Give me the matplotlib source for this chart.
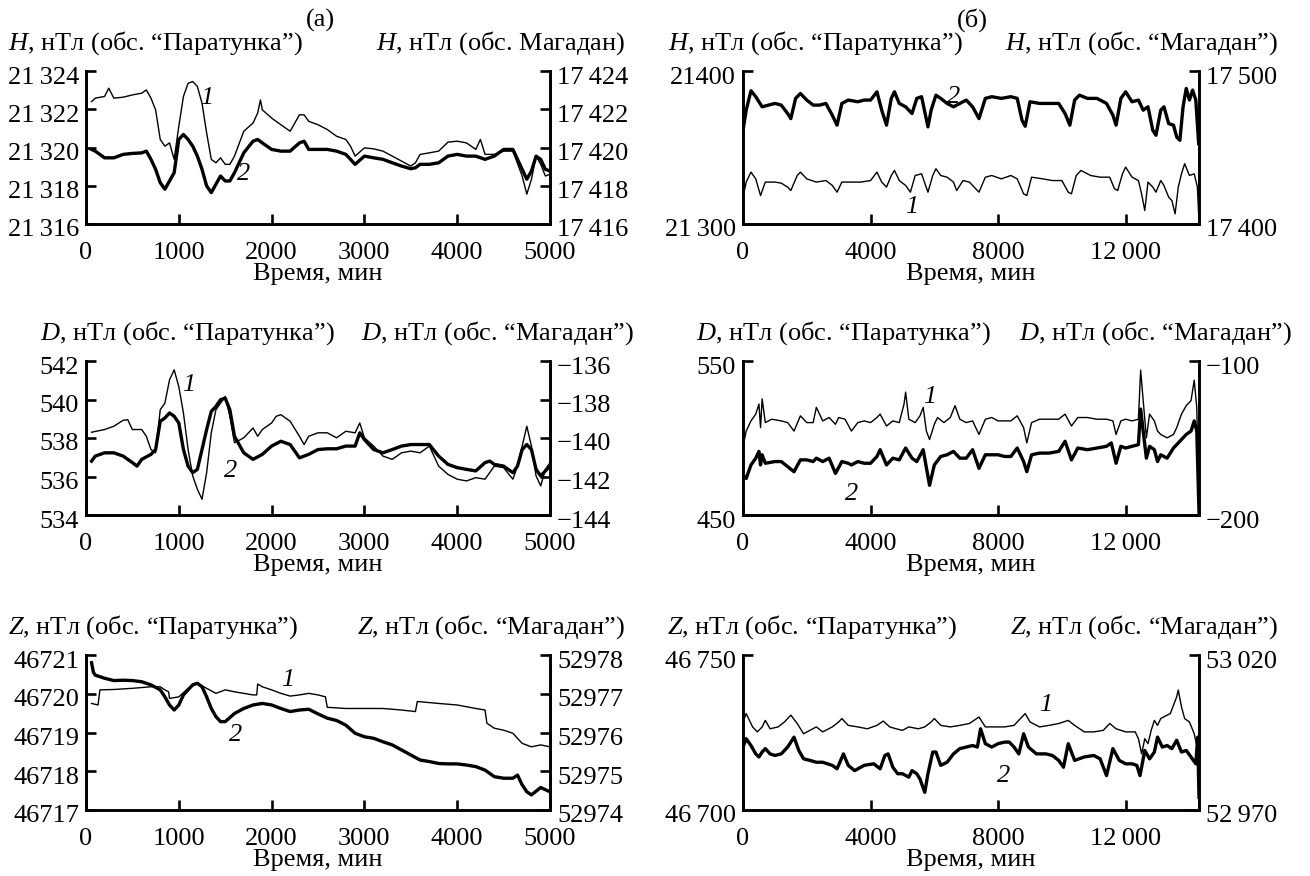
import matplotlib
matplotlib.use("Agg")
import matplotlib.pyplot as plt
from matplotlib.transforms import ScaledTranslation

plt.rcParams['font.family'] = ['Liberation Serif', 'DejaVu Serif']
plt.rcParams['mathtext.fontset'] = 'custom'
plt.rcParams['mathtext.it'] = 'Liberation Serif:italic'
plt.rcParams['mathtext.rm'] = 'Liberation Serif'
plt.rcParams['axes.unicode_minus'] = True

# ---------------- Panel (a): H ----------------
h_a_t1 = [60, 100, 200, 245, 300, 400, 500, 600, 650, 700, 750, 800, 850, 900, 950, 1000, 1050, 1100, 1150,
          1200, 1250, 1300, 1350, 1400, 1450, 1500, 1550, 1600, 1700, 1800, 1850, 1880, 1900, 2000, 2100, 2200,
          2300, 2350, 2400, 2500, 2600, 2700, 2800, 2850, 2900, 3000, 3100, 3200, 3300, 3400, 3500, 3550, 3600,
          3700, 3800, 3900, 4000, 4100, 4200, 4250, 4300, 4400, 4500, 4600, 4700, 4750, 4800, 4850, 4900, 4950, 5000]
h_a_par = [21322.4, 21322.58, 21322.67, 21323.1, 21322.58, 21322.63, 21322.75, 21322.84, 21323.01, 21322.58,
           21321.97, 21320.42, 21320.07, 21320.24, 21319.38, 21321.11, 21322.67, 21323.36, 21323.45, 21323.19,
           21322.32, 21320.76, 21319.38, 21319.20, 21319.46, 21319.12, 21319.12, 21319.55, 21320.85, 21321.28,
           21321.80, 21322.49, 21321.97, 21321.54, 21321.19, 21320.85, 21321.71, 21321.71, 21321.37, 21321.19,
           21320.94, 21320.59, 21320.42, 21320.07, 21319.55, 21319.98, 21319.93, 21319.81, 21319.55, 21319.29,
           21319.03, 21319.20, 21319.64, 21319.72, 21319.81, 21320.28, 21320.33, 21320.24, 21319.90, 21320.42,
           21319.64, 21319.64, 21319.81, 21319.81, 21318.51, 21317.56, 21318.34, 21319.55, 21319.12, 21318.51,
           21318.60]
h_a_t2 = [60, 100, 200, 300, 400, 500, 600, 650, 700, 750, 800, 850, 900, 950, 1000, 1050, 1100, 1150, 1200,
          1250, 1300, 1350, 1400, 1450, 1500, 1550, 1600, 1700, 1800, 1850, 1900, 2000, 2100, 2200, 2300, 2350,
          2400, 2500, 2600, 2700, 2800, 2850, 2900, 3000, 3100, 3200, 3300, 3400, 3500, 3550, 3600, 3700, 3800,
          3900, 4000, 4100, 4200, 4300, 4400, 4500, 4600, 4700, 4750, 4800, 4850, 4900, 4950, 5000]
h_a_mag = [17419.90, 17419.81, 17419.46, 17419.46, 17419.64, 17419.69, 17419.72, 17419.81, 17419.38, 17418.86,
           17418.16, 17417.82, 17418.25, 17418.68, 17420.42, 17420.68, 17420.42, 17420.07, 17419.55, 17418.86,
           17417.99, 17417.64, 17418.08, 17418.51, 17418.25, 17418.25, 17418.68, 17419.72, 17420.33, 17420.42,
           17420.24, 17419.90, 17419.81, 17419.81, 17420.24, 17420.33, 17419.90, 17419.90, 17419.90, 17419.81,
           17419.64, 17419.38, 17419.12, 17419.55, 17419.46, 17419.38, 17419.20, 17419.03, 17418.89, 17418.94,
           17419.12, 17419.12, 17419.20, 17419.55, 17419.64, 17419.55, 17419.55, 17419.38, 17419.55, 17419.90,
           17419.90, 17418.86, 17418.34, 17418.77, 17419.55, 17419.38, 17418.86, 17418.77]

# ---------------- Panel (a): D ----------------
d_a_t1 = [60, 200, 300, 400, 450, 500, 600, 650, 700, 750, 800, 850, 900, 950, 1000, 1050, 1100, 1150, 1200,
          1250, 1300, 1350, 1400, 1450, 1500, 1550, 1600, 1700, 1800, 1850, 1900, 2000, 2050, 2100, 2200, 2300,
          2350, 2400, 2500, 2600, 2700, 2800, 2900, 2950, 3000, 3100, 3200, 3300, 3400, 3500, 3600, 3700, 3800,
          3900, 4000, 4100, 4200, 4300, 4400, 4500, 4600, 4650, 4700, 4750, 4800, 4850, 4900, 4950, 5000]
d_a_par = [538.30, 538.44, 538.61, 538.92, 538.95, 538.44, 538.44, 538.09, 537.40, 537.23, 539.47, 539.81,
           541.02, 541.54, 540.67, 539.30, 537.40, 536.03, 535.34, 534.82, 536.20, 538.27, 539.47, 539.81,
           540.16, 539.13, 537.75, 538.01, 538.52, 538.09, 538.44, 538.78, 539.13, 539.21, 538.87, 538.09,
           537.66, 538.09, 538.27, 538.27, 538.01, 538.35, 538.27, 538.78, 538.01, 537.58, 537.06, 536.89,
           537.23, 537.32, 537.23, 537.58, 536.54, 536.11, 535.86, 535.77, 535.94, 535.86, 536.54, 536.46,
           535.86, 536.54, 537.58, 538.61, 537.58, 536.03, 535.51, 536.37, 536.72]
d_a_t2 = [60, 100, 200, 300, 400, 500, 550, 600, 700, 750, 800, 850, 900, 950, 1000, 1050, 1100, 1150, 1200,
          1250, 1300, 1350, 1400, 1450, 1500, 1550, 1600, 1700, 1800, 1900, 2000, 2100, 2200, 2300, 2400, 2500,
          2600, 2700, 2800, 2900, 2950, 3000, 3100, 3200, 3300, 3400, 3500, 3600, 3700, 3800, 3900, 4000, 4100,
          4200, 4300, 4350, 4400, 4500, 4600, 4650, 4700, 4750, 4800, 4850, 4900, 4950, 5000]
d_a_mag = [-141.20, -140.94, -140.77, -140.77, -140.94, -141.28, -141.46, -141.11, -140.85, -140.60, -139.13,
           -138.96, -138.70, -138.87, -139.22, -140.60, -141.46, -141.80, -141.63, -140.60, -139.56, -138.62,
           -138.36, -138.01, -137.93, -138.53, -139.91, -140.77, -141.11, -140.85, -140.42, -140.17, -140.34,
           -141.03, -140.85, -140.60, -140.56, -140.56, -140.42, -140.42, -139.73, -140.08, -140.60, -140.77,
           -140.60, -140.42, -140.34, -140.34, -140.34, -140.94, -141.37, -141.54, -141.63, -141.71, -141.28,
           -141.20, -141.37, -141.46, -141.80, -141.46, -140.60, -140.34, -140.60, -141.63, -141.97, -141.71,
           -141.46]

# ---------------- Panel (a): Z ----------------
z_a_t1 = [60, 130, 150, 300, 500, 700, 800, 850, 890, 900, 1000, 1100, 1200, 1300, 1400, 1500, 1600, 1700, 1800,
          1840, 1850, 1900, 2000, 2100, 2200, 2300, 2400, 2500, 2580, 2600, 2800, 3000, 3200, 3400, 3550, 3570,
          3800, 4000, 4200, 4300, 4320, 4400, 4500, 4600, 4700, 4800, 4900, 5000]
z_a_par = [46719.75, 46719.71, 46720.10, 46720.11, 46720.14, 46720.18, 46720.18, 46720.10, 46720.05, 46719.88,
           46719.92, 46720.14, 46720.27, 46720.14, 46720.01, 46720.10, 46720.05, 46720.01, 46719.97, 46719.97,
           46720.25, 46720.18, 46720.10, 46720.01, 46719.94, 46719.97, 46720.01, 46719.97, 46719.92, 46719.65,
           46719.62, 46719.62, 46719.62, 46719.58, 46719.54, 46719.80, 46719.75, 46719.71, 46719.62, 46719.58,
           46719.24, 46719.11, 46719.06, 46718.98, 46718.72, 46718.63, 46718.68, 46718.63]
z_a_t2 = [60, 80, 100, 200, 300, 400, 500, 600, 700, 800, 850, 900, 950, 1000, 1050, 1100, 1150, 1200, 1250,
          1300, 1350, 1400, 1450, 1500, 1600, 1700, 1800, 1900, 2000, 2100, 2200, 2300, 2400, 2500, 2600, 2700,
          2800, 2900, 3000, 3100, 3200, 3300, 3400, 3500, 3600, 3700, 3800, 3900, 4000, 4100, 4200, 4300, 4400,
          4500, 4600, 4650, 4700, 4750, 4800, 4900, 5000]
z_a_mag = [52977.80, 52977.55, 52977.48, 52977.40, 52977.34, 52977.35, 52977.34, 52977.31, 52977.23, 52977.10,
           52976.92, 52976.71, 52976.58, 52976.71, 52976.97, 52977.10, 52977.23, 52977.27, 52977.18, 52976.92,
           52976.62, 52976.41, 52976.28, 52976.28, 52976.49, 52976.62, 52976.71, 52976.75, 52976.71, 52976.62,
           52976.54, 52976.58, 52976.60, 52976.48, 52976.37, 52976.31, 52976.19, 52975.98, 52975.89, 52975.85,
           52975.76, 52975.68, 52975.55, 52975.42, 52975.29, 52975.25, 52975.20, 52975.19, 52975.19, 52975.16,
           52975.12, 52975.03, 52974.86, 52974.82, 52974.82, 52974.90, 52974.65, 52974.47, 52974.39, 52974.58,
           52974.47]

# ---------------- Panel (б): H ----------------
h_b_t1 = [0, 100, 250, 400, 550, 700, 1000, 1200, 1400, 1500, 1700, 1800, 2000, 2300, 2600, 2800, 2950, 3100,
          3400, 3700, 4000, 4200, 4350, 4500, 4650, 4750, 4900, 5100, 5250, 5400, 5600, 5800, 5950, 6050, 6200,
          6400, 6600, 6700, 6900, 7100, 7400, 7600, 7800, 8100, 8400, 8600, 8800, 8900, 9050, 9400, 9700, 10000,
          10200, 10300, 10450, 10600, 10900, 11200, 11500, 11650, 11750, 11900, 12000, 12200, 12400, 12500, 12600,
          12700, 12850, 12950, 13100, 13200, 13350, 13450, 13550, 13650, 13750, 13850, 14000, 14150, 14250, 14300]
h_b_par = [21317.5, 21327.4, 21333.9, 21329.5, 21318.6, 21327.4, 21327.4, 21326.7, 21324.1, 21321.9, 21331.7,
           21333.9, 21329.5, 21327.4, 21328.4, 21325.2, 21320.8, 21327.4, 21327.4, 21327.4, 21328.4, 21333.9,
           21327.4, 21324.1, 21331.7, 21335.0, 21328.4, 21325.2, 21320.8, 21331.7, 21332.8, 21320.8, 21331.7,
           21336.1, 21331.7, 21330.6, 21327.4, 21321.9, 21328.4, 21327.4, 21320.8, 21330.6, 21331.7, 21329.5,
           21331.7, 21329.5, 21319.7, 21318.6, 21330.6, 21329.5, 21328.4, 21328.4, 21320.8, 21319.7, 21331.7,
           21335.0, 21331.7, 21330.6, 21330.6, 21323.0, 21321.9, 21332.8, 21337.2, 21330.6, 21328.4, 21319.7,
           21308.8, 21327.4, 21324.1, 21320.8, 21328.4, 21325.2, 21317.5, 21315.3, 21306.6, 21324.1, 21332.8,
           21339.4, 21331.7, 21332.8, 21324.1, 21301.1]
h_b_t2 = [0, 100, 250, 400, 600, 800, 1000, 1200, 1400, 1500, 1650, 1800, 2000, 2200, 2400, 2600, 2800, 2950,
          3100, 3300, 3600, 3800, 4000, 4200, 4350, 4500, 4650, 4750, 4900, 5100, 5300, 5450, 5600, 5800, 5900,
          6050, 6200, 6400, 6600, 6800, 7000, 7200, 7400, 7600, 7800, 8100, 8400, 8600, 8750, 8850, 9000, 9300,
          9600, 9900, 10100, 10250, 10400, 10550, 10800, 11100, 11400, 11600, 11700, 11850, 12000, 12200, 12400,
          12550, 12700, 12850, 12950, 13100, 13200, 13350, 13500, 13600, 13700, 13800, 13900, 14000, 14100, 14200,
          14290]
h_b_mag = [17461.3, 17474.4, 17487.1, 17483.2, 17476.6, 17477.7, 17478.8, 17477.7, 17472.2, 17468.9, 17482.1,
           17485.3, 17481.0, 17477.7, 17477.7, 17478.8, 17471.1, 17464.6, 17478.8, 17481.0, 17479.9, 17481.0,
           17481.0, 17486.4, 17474.4, 17464.6, 17482.1, 17486.4, 17478.8, 17476.6, 17472.2, 17482.1, 17483.2,
           17463.5, 17474.4, 17484.2, 17482.1, 17478.8, 17476.6, 17478.8, 17481.0, 17476.6, 17468.9, 17482.1,
           17483.2, 17482.1, 17483.2, 17482.1, 17467.8, 17463.9, 17479.9, 17478.8, 17478.8, 17478.8, 17472.2,
           17464.6, 17481.0, 17484.2, 17482.1, 17482.1, 17478.8, 17471.1, 17464.6, 17482.1, 17486.4, 17479.9,
           17481.0, 17474.4, 17476.6, 17461.3, 17458.0, 17474.4, 17476.6, 17465.6, 17464.6, 17456.9, 17454.7,
           17476.6, 17488.6, 17481.0, 17487.5, 17481.0, 17452.5]

# ---------------- Panel (б): D ----------------
d_b_t1 = [0, 100, 250, 400, 500, 550, 600, 700, 900, 1200, 1400, 1600, 1800, 2000, 2200, 2300, 2500, 2700, 2900,
          3000, 3200, 3400, 3600, 3800, 4000, 4200, 4300, 4500, 4700, 4900, 5050, 5100, 5200, 5400, 5550, 5650,
          5750, 5850, 6000, 6100, 6300, 6500, 6650, 6800, 7000, 7200, 7400, 7600, 7800, 8000, 8200, 8400, 8600,
          8800, 8900, 9050, 9300, 9600, 9900, 10100, 10300, 10500, 10800, 11100, 11400, 11600, 11700, 11850,
          12000, 12200, 12400, 12470, 12550, 12650, 12750, 12900, 13000, 13100, 13300, 13500, 13600, 13750,
          13900, 14050, 14150, 14230, 14300]
d_b_par = [494.6, 504.5, 511.1, 515.5, 522.1, 506.7, 525.4, 510.0, 512.2, 511.1, 510.0, 504.5, 514.4, 510.0,
           510.0, 519.9, 511.1, 513.3, 508.9, 513.3, 512.2, 504.5, 510.0, 511.1, 510.0, 513.3, 515.5, 507.8,
           511.1, 510.0, 522.1, 529.8, 512.2, 510.0, 514.4, 519.9, 504.5, 499.0, 508.9, 513.3, 510.0, 513.3,
           521.0, 512.2, 510.0, 511.1, 502.3, 512.2, 513.3, 511.1, 511.1, 511.1, 514.4, 506.7, 496.8, 510.0,
           512.2, 512.2, 512.2, 515.5, 507.8, 513.3, 513.3, 512.2, 512.2, 511.1, 502.3, 511.1, 512.2, 511.1,
           512.2, 544.1, 524.3, 500.1, 515.5, 511.1, 504.5, 502.3, 500.1, 502.3, 506.7, 515.5, 521.0, 524.3,
           537.5, 519.9, 454.0]
d_b_t2 = [0, 100, 250, 400, 500, 550, 600, 700, 1000, 1200, 1400, 1600, 1800, 2000, 2200, 2300, 2500, 2700, 2900,
          3100, 3300, 3400, 3600, 3800, 4000, 4200, 4300, 4500, 4700, 4900, 5100, 5300, 5450, 5650, 5850, 6000,
          6200, 6400, 6600, 6800, 7000, 7200, 7400, 7600, 7800, 8000, 8200, 8400, 8600, 8800, 8900, 9050, 9300,
          9600, 9900, 10100, 10300, 10500, 10800, 11100, 11400, 11550, 11700, 11850, 12000, 12200, 12400, 12470,
          12550, 12650, 12750, 12900, 13000, 13100, 13300, 13500, 13700, 13900, 14050, 14150, 14230, 14300]
d_b_mag = [-174.1, -176.3, -167.5, -163.1, -158.7, -167.5, -160.9, -166.4, -165.3, -165.3, -168.6, -171.9,
           -164.2, -164.2, -165.3, -163.1, -165.3, -163.1, -173.0, -165.3, -166.4, -167.5, -165.3, -166.4,
           -166.4, -162.0, -157.6, -167.5, -163.1, -164.2, -156.5, -163.1, -165.3, -157.6, -180.7, -167.5,
           -162.0, -160.9, -158.7, -163.1, -163.1, -157.6, -169.7, -160.9, -160.9, -160.9, -162.0, -162.0,
           -156.5, -165.3, -171.9, -160.9, -159.8, -159.8, -158.7, -152.1, -164.2, -156.5, -157.6, -156.5,
           -155.4, -153.2, -166.4, -155.4, -156.5, -155.4, -154.3, -131.2, -145.5, -163.1, -155.4, -157.6,
           -165.3, -160.9, -163.1, -156.5, -152.1, -147.7, -145.5, -138.9, -145.5, -198.2]

# ---------------- Panel (б): Z ----------------
z_b_t1 = [0, 100, 300, 450, 600, 700, 850, 1100, 1300, 1500, 1700, 1900, 2100, 2300, 2500, 2800, 3000, 3100,
          3300, 3600, 3900, 4200, 4400, 4600, 4800, 5000, 5200, 5500, 5700, 5900, 6000, 6200, 6500, 6800, 7100,
          7400, 7600, 7900, 8200, 8500, 8700, 8850, 9000, 9300, 9600, 9900, 10200, 10400, 10700, 11000, 11300,
          11500, 11700, 12000, 12300, 12400, 12500, 12600, 12700, 12800, 12900, 13000, 13100, 13300, 13400,
          13500, 13600, 13650, 13750, 13850, 14000, 14150, 14250, 14300]
z_b_par = [46728.4, 46731.1, 46726.8, 46725.2, 46726.8, 46728.9, 46726.2, 46726.8, 46728.4, 46730.6, 46727.9,
           46724.6, 46725.7, 46726.8, 46725.2, 46726.8, 46728.4, 46729.5, 46727.3, 46726.8, 46726.2, 46727.3,
           46728.7, 46726.8, 46726.2, 46725.7, 46726.8, 46726.2, 46726.8, 46728.4, 46729.5, 46727.3, 46726.8,
           46727.3, 46727.9, 46730.0, 46726.8, 46726.8, 46726.8, 46727.3, 46729.5, 46731.1, 46728.4, 46726.8,
           46727.3, 46727.9, 46728.9, 46727.3, 46725.2, 46725.2, 46725.7, 46727.9, 46726.2, 46725.2, 46725.2,
           46723.0, 46718.1, 46723.0, 46721.4, 46725.7, 46728.9, 46727.3, 46729.5, 46730.6, 46731.1, 46733.8,
           46736.5, 46738.7, 46733.3, 46729.5, 46728.4, 46724.6, 46719.8, 46719.2]
z_b_t2 = [0, 100, 250, 400, 500, 600, 700, 850, 1000, 1200, 1400, 1600, 1750, 1900, 2100, 2300, 2500, 2800, 2950,
          3150, 3300, 3500, 3800, 4100, 4300, 4450, 4550, 4700, 4850, 5000, 5200, 5300, 5450, 5550, 5700, 5800,
          5950, 6050, 6200, 6400, 6600, 6800, 7000, 7200, 7350, 7450, 7600, 7800, 8000, 8200, 8350, 8500, 8650,
          8800, 8950, 9200, 9500, 9700, 9900, 10050, 10200, 10400, 10700, 11000, 11200, 11400, 11600, 11800,
          12000, 12200, 12350, 12450, 12600, 12750, 12900, 13000, 13150, 13300, 13450, 13600, 13750, 13900,
          14050, 14200, 14260, 14300]
z_b_mag = [52990.3, 52993.0, 52990.8, 52988.1, 52987.1, 52988.7, 52989.8, 52988.1, 52987.6, 52988.1, 52990.3,
           52993.5, 52989.2, 52986.5, 52986.0, 52985.4, 52985.4, 52984.4, 52983.3, 52988.1, 52984.4, 52982.7,
           52984.4, 52984.9, 52983.3, 52987.6, 52988.1, 52983.8, 52981.7, 52981.7, 52980.6, 52982.7, 52981.7,
           52980.0, 52975.7, 52981.7, 52988.7, 52988.7, 52984.4, 52985.4, 52988.1, 52989.8, 52990.3, 52990.8,
           52990.3, 52996.2, 52991.4, 52990.3, 52991.4, 52991.9, 52991.9, 52990.3, 52988.1, 52994.6, 52990.3,
           52988.1, 52988.1, 52987.6, 52986.0, 52983.8, 52991.4, 52986.0, 52987.1, 52987.6, 52986.5, 52981.1,
           52989.8, 52986.0, 52984.9, 52984.9, 52984.4, 52981.1, 52989.2, 52986.5, 52988.7, 52993.5, 52990.3,
           52990.8, 52989.8, 52992.5, 52988.7, 52989.2, 52987.1, 52984.9, 52993.5, 52974.1]

# ---------------- Axis ticks / labels ----------------
xa_ticks = [0, 1000, 2000, 3000, 4000, 5000]
xa_labels = ['0', '1000', '2000', '3000', '4000', '5000']
xb_ticks = [0, 4000, 8000, 12000]
xb_labels = ['0', '4000', '8000', '12\u2009000']

h_a_l_ticks = [21316, 21318, 21320, 21322, 21324]
h_a_l_labels = ['21\u2009316', '21\u2009318', '21\u2009320', '21\u2009322', '21\u2009324']
h_a_r_ticks = [17416, 17418, 17420, 17422, 17424]
h_a_r_labels = ['17\u2009416', '17\u2009418', '17\u2009420', '17\u2009422', '17\u2009424']
d_a_l_ticks = [534, 536, 538, 540, 542]
d_a_l_labels = ['534', '536', '538', '540', '542']
d_a_r_ticks = [-144, -142, -140, -138, -136]
d_a_r_labels = ['\u2212144', '\u2212142', '\u2212140', '\u2212138', '\u2212136']
z_a_l_ticks = [46717, 46718, 46719, 46720, 46721]
z_a_l_labels = ['46717', '46718', '46719', '46720', '46721']
z_a_r_ticks = [52974, 52975, 52976, 52977, 52978]
z_a_r_labels = ['52974', '52975', '52976', '52977', '52978']

h_b_l_ticks = [21300, 21400]
h_b_l_labels = ['21\u2009300', '21400']
h_b_r_ticks = [17400, 17500]
h_b_r_labels = ['17\u2009400', '17\u2009500']
d_b_l_ticks = [450, 550]
d_b_l_labels = ['450', '550']
d_b_r_ticks = [-200, -100]
d_b_r_labels = ['\u2212200', '\u2212100']
z_b_l_ticks = [46700, 46750]
z_b_l_labels = ['46\u2009700', '46\u2009750']
z_b_r_ticks = [52970, 53020]
z_b_r_labels = ['52\u2009970', '53\u2009020']

W, H = 1310, 876
FS = 19
fig = plt.figure(figsize=(W / 100, H / 100), dpi=100)
down = ScaledTranslation(0, -4 / 100, fig.dpi_scale_trans)


def px(x, y):
    return x / W, 1 - y / H


def make_panel(rect, xlim, xt, xl, t1, v1, t2, v2, lt, ll, rt, rl, ann1, ann2):
    ax = fig.add_axes(rect)
    ax2 = ax.twinx()
    ax.plot(t1, v1, color='black', lw=1.0)
    ax2.plot(t2, v2, color='black', lw=2.4)
    ax.set_xlim(*xlim)
    ax.set_ylim(lt[0], lt[-1])
    ax2.set_ylim(rt[0], rt[-1])
    ax.set_xticks(xt, xl)
    ax.set_yticks(lt, ll)
    ax2.set_yticks(rt, rl)
    for a in (ax, ax2):
        a.spines['top'].set_visible(False)
        for s in a.spines.values():
            s.set_linewidth(1.9)
    ax.tick_params(axis='x', direction='in', length=7, width=1.9, labelsize=FS, pad=13)
    ax.tick_params(axis='y', direction='in', length=7, width=1.9, labelsize=FS, pad=5)
    ax2.tick_params(axis='y', direction='in', length=7, width=1.9, labelsize=FS, pad=5)
    for a in (ax, ax2):
        for lbl in a.get_yticklabels():
            lbl.set_transform(lbl.get_transform() + down)
    ax.set_xlabel('Время, мин', fontsize=FS, labelpad=-1)
    ax.text(ann1[0], ann1[1], '1', fontsize=FS, style='italic', ha='center', va='center')
    ax2.text(ann2[0], ann2[1], '2', fontsize=FS, style='italic', ha='center', va='center')
    return ax, ax2


LX, LW = 86 / W, (550 - 86) / W
RX, RW = 743 / W, (1199 - 743) / W
rows = [(1 - 224 / H, 153 / H), (1 - 515 / H, 154 / H), (1 - 810 / H, 155 / H)]
XA = (0, 5000)
XB = (0, 14300)

make_panel([LX, rows[0][0], LW, rows[0][1]], XA, xa_ticks, xa_labels, h_a_t1, h_a_par, h_a_t2, h_a_mag,
           h_a_l_ticks, h_a_l_labels, h_a_r_ticks, h_a_r_labels, (1300, 21322.6), (1700, 17418.6))
make_panel([LX, rows[1][0], LW, rows[1][1]], XA, xa_ticks, xa_labels, d_a_t1, d_a_par, d_a_t2, d_a_mag,
           d_a_l_ticks, d_a_l_labels, d_a_r_ticks, d_a_r_labels, (1110, 540.75), (1556, -141.7))
make_panel([LX, rows[2][0], LW, rows[2][1]], XA, xa_ticks, xa_labels, z_a_t1, z_a_par, z_a_t2, z_a_mag,
           z_a_l_ticks, z_a_l_labels, z_a_r_ticks, z_a_r_labels, (2178, 46720.35), (1610, 52975.94))
make_panel([RX, rows[0][0], RW, rows[0][1]], XB, xb_ticks, xb_labels, h_b_t1, h_b_par, h_b_t2, h_b_mag,
           h_b_l_ticks, h_b_l_labels, h_b_r_ticks, h_b_r_labels, (5291, 21310.9), (6614, 17483.2))
make_panel([RX, rows[1][0], RW, rows[1][1]], XB, xb_ticks, xb_labels, d_b_t1, d_b_par, d_b_t2, d_b_mag,
           d_b_l_ticks, d_b_l_labels, d_b_r_ticks, d_b_r_labels, (5860, 526.5), (3413, -186.2))
make_panel([RX, rows[2][0], RW, rows[2][1]], XB, xb_ticks, xb_labels, z_b_t1, z_b_par, z_b_t2, z_b_mag,
           z_b_l_ticks, z_b_l_labels, z_b_r_ticks, z_b_r_labels, (9497, 46733.8), (8175, 52981.1))

# Titles of columns
fig.text(*px(320, 20), '(a)', fontsize=FS, ha='center', va='center')
fig.text(*px(972, 20), '(б)', fontsize=FS, ha='center', va='center')

# Axis captions above each panel
caps = [
    (8, 625, 43, '$H$, нТл (обс. “Паратунка”)', '$H$, нТл (обс. Магадан)'),
    (40, 634, 333, '$D$, нТл (обс. “Паратунка”)', '$D$, нТл (обс. “Магадан”)'),
    (8, 625, 627, '$Z$, нТл (обс. “Паратунка”)', '$Z$, нТл (обс. “Магадан”)'),
    (668, 1278, 43, '$H$, нТл (обс. “Паратунка”)', '$H$, нТл (обс. “Магадан”)'),
    (696, 1292, 333, '$D$, нТл (обс. “Паратунка”)', '$D$, нТл (обс. “Магадан”)'),
    (667, 1278, 627, '$Z$, нТл (обс. “Паратунка”)', '$Z$, нТл (обс. “Магадан”)'),
]
for xl_, xr_, y_, tl, tr in caps:
    fig.text(*px(xl_, y_), tl, fontsize=FS, ha='left', va='center')
    fig.text(*px(xr_, y_), tr, fontsize=FS, ha='right', va='center')

fig.savefig('out.png', dpi=100)
